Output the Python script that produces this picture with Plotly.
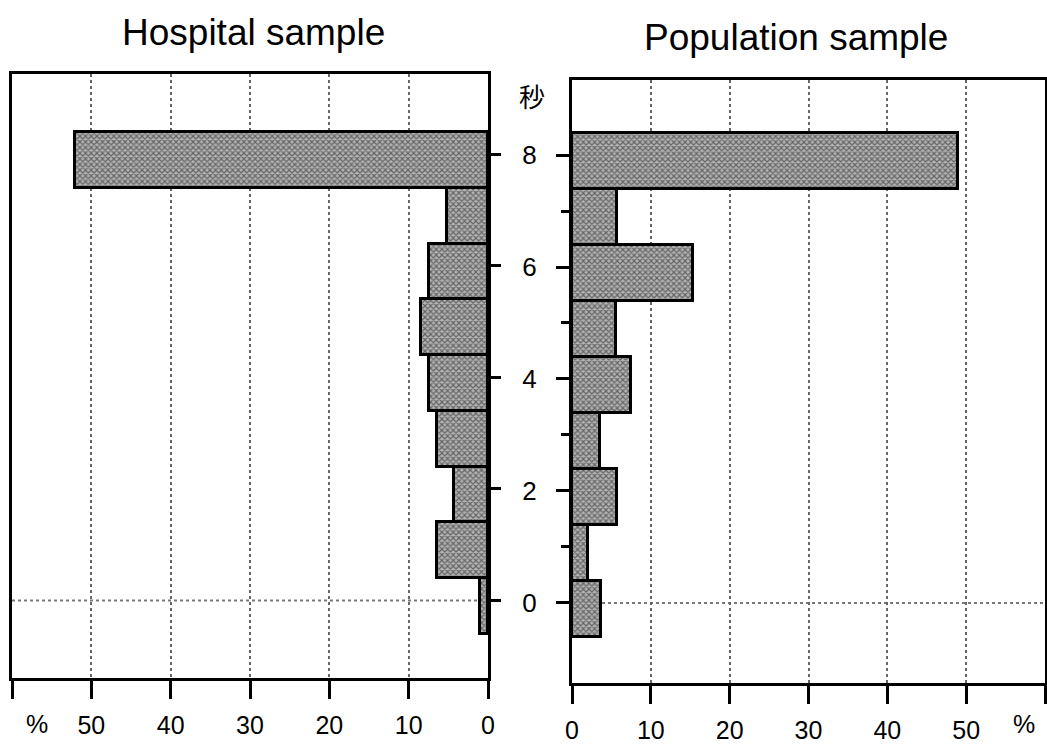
import plotly.graph_objects as go

# ---- data ----
seconds = [8, 7, 6, 5, 4, 3, 2, 1, 0]
hospital_pct = [52, 5.2, 7.5, 8.4, 7.4, 6.4, 4.3, 6.4, 1.0]
population_pct = [49, 5.7, 15.4, 5.6, 7.5, 3.6, 5.7, 2.0, 3.7]
x_ticks = [0, 10, 20, 30, 40, 50, 60]
x_ticklabels = ["0", "10", "20", "30", "40", "50", ""]
y_major = [0, 2, 4, 6, 8]
y_minor = [1, 3, 5, 7]
titles = ["Hospital sample", "Population sample"]
unit_x = "%"
unit_y = "秒"

W, H = 1047, 747
def px(x):
    return x / W
def py(y):
    return 1 - y / H

FONT = "Liberation Sans, Arial, Helvetica, sans-serif"
bar_marker = dict(
    color="#8c8c8c",
    line=dict(color="black", width=3),
    pattern=dict(shape="x", size=4, solidity=0.5, fgcolor="#151515", bgcolor="#b3b3b3"),
)

fig = go.Figure()
fig.add_trace(go.Bar(x=hospital_pct, y=seconds, orientation="h", width=1, offset=-0.6,
                     marker=bar_marker, xaxis="x", yaxis="y", showlegend=False))
fig.add_trace(go.Bar(x=population_pct, y=seconds, orientation="h", width=1, offset=-0.6,
                     marker=bar_marker, xaxis="x2", yaxis="y2", showlegend=False))

common_x = dict(
    tickvals=x_ticks, ticktext=x_ticklabels, ticks="outside", ticklen=18, tickwidth=3,
    tickcolor="black", showline=True, linewidth=3, linecolor="black", mirror=True,
    showgrid=True, gridcolor="#666666", griddash="dot", gridwidth=1.5, zeroline=False,
    tickfont=dict(family=FONT, size=25, color="black"), ticklabelstandoff=5,
    fixedrange=True, automargin=False,
)

fig.update_layout(
    width=W, height=H, autosize=False,
    margin=dict(l=0, r=0, t=0, b=0, pad=0, autoexpand=False),
    paper_bgcolor="white", plot_bgcolor="white",
    bargap=0, showlegend=False,
    xaxis=dict(common_x, domain=[px(12), px(488)], range=[60, 0], anchor="y"),
    yaxis=dict(domain=[py(678), py(74)], range=[-1.39, 9.44], anchor="x", side="right",
               tickvals=y_major, ticks="outside", ticklen=10, tickwidth=3, tickcolor="black",
               showticklabels=False, showline=True, linewidth=3, linecolor="black",
               mirror=True, showgrid=False, zeroline=False, automargin=False,
               fixedrange=True),
    xaxis2=dict(common_x, domain=[px(572), px(1045)], range=[0, 60], anchor="y2"),
    yaxis2=dict(domain=[py(683), py(80)], range=[-1.43, 9.34], anchor="x2", side="left",
                tickvals=y_major, ticks="outside", ticklen=13, tickwidth=3, tickcolor="black",
                minor=dict(tickvals=y_minor, ticks="outside", ticklen=8, tickwidth=3,
                           tickcolor="black", showgrid=False),
                tickfont=dict(family=FONT, size=26, color="black"), ticklabelstandoff=14,
                showline=True, linewidth=3, linecolor="black", mirror=True,
                showgrid=False, zeroline=False, automargin=False, fixedrange=True),
)

# dotted reference line at 0 seconds in both panels
for xr, yr in (("x domain", "y"), ("x2 domain", "y2")):
    fig.add_shape(type="line", xref=xr, yref=yr, x0=0, x1=1, y0=0, y1=0,
                  line=dict(color="#777777", width=2, dash="dot"), layer="below")

ann = [
    dict(text=titles[0], x=px(253), y=py(33), size=37),
    dict(text=titles[1], x=px(796), y=py(38), size=37),
    dict(text=unit_x, x=px(37), y=py(724), size=25),
    dict(text=unit_x, x=px(1024), y=py(724), size=25),
]
for a in ann:
    fig.add_annotation(text=a["text"], x=a["x"], y=a["y"], xref="paper", yref="paper",
                       showarrow=False, xanchor="center", yanchor="middle",
                       font=dict(family=FONT, size=a["size"], color="black"))
fig.add_annotation(text=unit_y, x=px(532), y=py(95), xref="paper", yref="paper",
                   showarrow=False, xanchor="center", yanchor="middle",
                   font=dict(family="Noto Sans CJK JP", size=26, color="black"))

fig.write_html("out.html", config={"displayModeBar": False, "responsive": False})
